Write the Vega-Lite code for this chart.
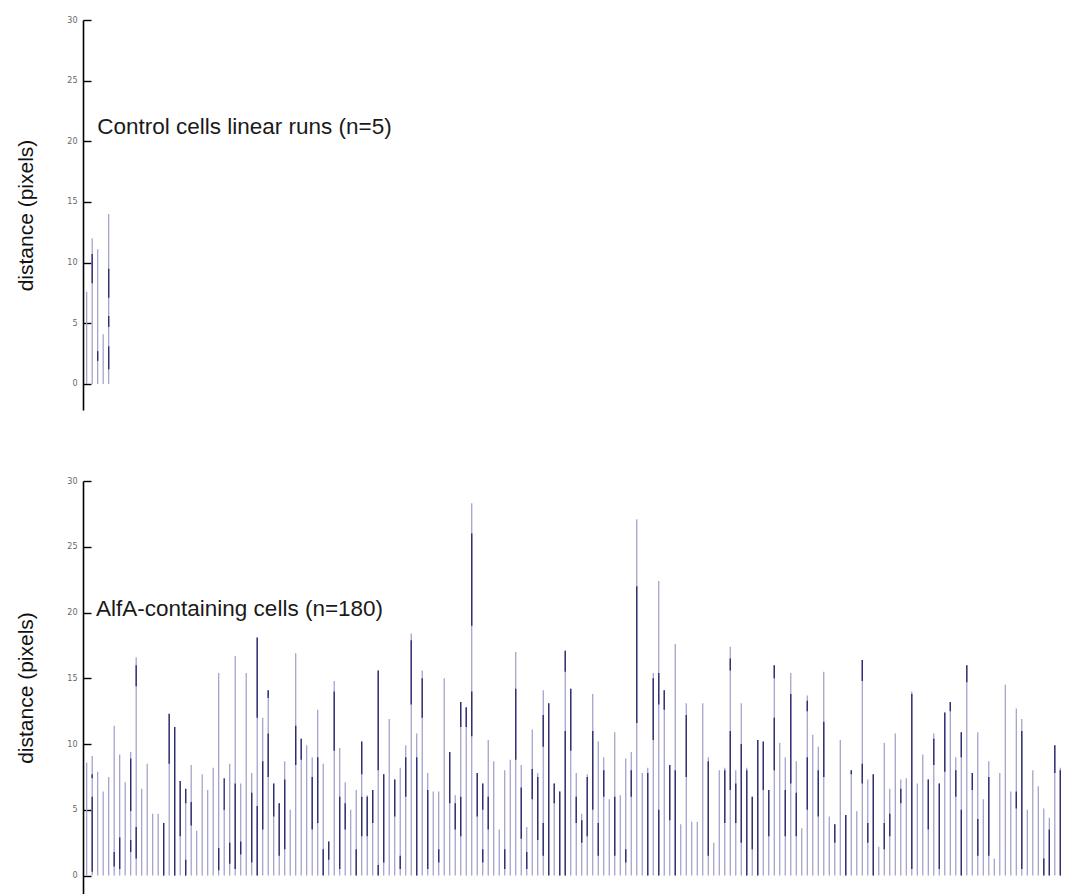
{
  "$schema": "https://vega.github.io/schema/vega-lite/v6.json",
  "background": "white",
  "padding": {"left": 15, "top": 16, "right": 0, "bottom": 0},
  "spacing": 67,
  "config": {
    "view": {"stroke": null},
    "axis": {"grid": false},
    "axisY": {
      "domainColor": "#000000", "domainWidth": 1.6,
      "tickColor": "#000000", "tickWidth": 1.4, "tickSize": -8,
      "labelPadding": 14, "labelFontSize": 8, "labelColor": "#666666", "labelFont": "DejaVu Sans",
      "titleFont": "Liberation Sans", "titleFontSize": 21,
      "titleFontWeight": "normal", "titleColor": "#111111", "titlePadding": 30
    }
  },
  "datasets": {
    "control": [
      {"cell": 1, "d": 7.6}, {"cell": 2, "d": 12.0}, {"cell": 3, "d": 11.1}, {"cell": 4, "d": 4.1}, {"cell": 5, "d": 14.0}
    ],
    "controlDark": [
      {"cell": 2, "lo": 8.3, "hi": 10.7}, {"cell": 3, "lo": 1.9, "hi": 2.7},
      {"cell": 5, "lo": 7.1, "hi": 9.5}, {"cell": 5, "lo": 4.7, "hi": 5.6}, {"cell": 5, "lo": 1.2, "hi": 3.1}
    ],
    "alfa": [
      {"cell": 1, "d": 8.6}, {"cell": 2, "d": 9.1}, {"cell": 3, "d": 7.9}, {"cell": 4, "d": 6.4}, {"cell": 5, "d": 7.5},
      {"cell": 6, "d": 11.4}, {"cell": 7, "d": 9.2}, {"cell": 8, "d": 7.1}, {"cell": 9, "d": 9.4}, {"cell": 10, "d": 16.6},
      {"cell": 11, "d": 6.6}, {"cell": 12, "d": 8.5}, {"cell": 13, "d": 4.7}, {"cell": 14, "d": 4.7}, {"cell": 15, "d": 4.0},
      {"cell": 16, "d": 12.3}, {"cell": 17, "d": 11.3}, {"cell": 18, "d": 7.2}, {"cell": 19, "d": 6.6}, {"cell": 20, "d": 8.4},
      {"cell": 21, "d": 3.4}, {"cell": 22, "d": 7.7}, {"cell": 23, "d": 6.5}, {"cell": 24, "d": 8.2}, {"cell": 25, "d": 15.4},
      {"cell": 26, "d": 5.1}, {"cell": 27, "d": 8.5}, {"cell": 28, "d": 16.7}, {"cell": 29, "d": 7.0}, {"cell": 30, "d": 15.4},
      {"cell": 31, "d": 7.8}, {"cell": 32, "d": 18.1}, {"cell": 33, "d": 12.0}, {"cell": 34, "d": 14.1}, {"cell": 35, "d": 7.0},
      {"cell": 36, "d": 5.5}, {"cell": 37, "d": 8.7}, {"cell": 38, "d": 5.0}, {"cell": 39, "d": 16.9}, {"cell": 40, "d": 10.4},
      {"cell": 41, "d": 9.9}, {"cell": 42, "d": 9.0}, {"cell": 43, "d": 12.6}, {"cell": 44, "d": 8.5}, {"cell": 45, "d": 2.6},
      {"cell": 46, "d": 14.8}, {"cell": 47, "d": 9.7}, {"cell": 48, "d": 7.1}, {"cell": 49, "d": 5.0}, {"cell": 50, "d": 6.5},
      {"cell": 51, "d": 10.2}, {"cell": 52, "d": 6.1}, {"cell": 53, "d": 6.5}, {"cell": 54, "d": 15.6}, {"cell": 55, "d": 7.7},
      {"cell": 56, "d": 11.9}, {"cell": 57, "d": 7.3}, {"cell": 58, "d": 8.2}, {"cell": 59, "d": 9.9}, {"cell": 60, "d": 18.4},
      {"cell": 61, "d": 10.8}, {"cell": 62, "d": 15.6}, {"cell": 63, "d": 7.8}, {"cell": 64, "d": 6.4}, {"cell": 65, "d": 6.4},
      {"cell": 66, "d": 15.0}, {"cell": 67, "d": 9.4}, {"cell": 68, "d": 6.1}, {"cell": 69, "d": 13.2}, {"cell": 70, "d": 12.8},
      {"cell": 71, "d": 28.3}, {"cell": 72, "d": 7.8}, {"cell": 73, "d": 7.0}, {"cell": 74, "d": 10.3}, {"cell": 75, "d": 8.7},
      {"cell": 76, "d": 3.5}, {"cell": 77, "d": 8.0}, {"cell": 78, "d": 8.8}, {"cell": 79, "d": 17.0}, {"cell": 80, "d": 8.4},
      {"cell": 81, "d": 3.7}, {"cell": 82, "d": 11.1}, {"cell": 83, "d": 7.8}, {"cell": 84, "d": 14.1}, {"cell": 85, "d": 13.1},
      {"cell": 86, "d": 7.0}, {"cell": 87, "d": 6.4}, {"cell": 88, "d": 17.1}, {"cell": 89, "d": 14.2}, {"cell": 90, "d": 7.8},
      {"cell": 91, "d": 4.7}, {"cell": 92, "d": 7.7}, {"cell": 93, "d": 13.8}, {"cell": 94, "d": 10.2}, {"cell": 95, "d": 9.0},
      {"cell": 96, "d": 5.8}, {"cell": 97, "d": 10.9}, {"cell": 98, "d": 6.1}, {"cell": 99, "d": 8.9}, {"cell": 100, "d": 9.4},
      {"cell": 101, "d": 27.1}, {"cell": 102, "d": 7.8}, {"cell": 103, "d": 8.2}, {"cell": 104, "d": 15.4}, {"cell": 105, "d": 22.4},
      {"cell": 106, "d": 14.1}, {"cell": 107, "d": 8.4}, {"cell": 108, "d": 17.6}, {"cell": 109, "d": 3.9}, {"cell": 110, "d": 13.1},
      {"cell": 111, "d": 4.1}, {"cell": 112, "d": 4.1}, {"cell": 113, "d": 13.1}, {"cell": 114, "d": 9.0}, {"cell": 115, "d": 2.5},
      {"cell": 116, "d": 8.0}, {"cell": 117, "d": 8.2}, {"cell": 118, "d": 17.4}, {"cell": 119, "d": 8.0}, {"cell": 120, "d": 13.1},
      {"cell": 121, "d": 8.2}, {"cell": 122, "d": 6.0}, {"cell": 123, "d": 10.3}, {"cell": 124, "d": 10.2}, {"cell": 125, "d": 6.5},
      {"cell": 126, "d": 16.0}, {"cell": 127, "d": 10.1}, {"cell": 128, "d": 9.0}, {"cell": 129, "d": 15.4}, {"cell": 130, "d": 8.7},
      {"cell": 131, "d": 3.6}, {"cell": 132, "d": 13.7}, {"cell": 133, "d": 10.7}, {"cell": 134, "d": 9.8}, {"cell": 135, "d": 15.5},
      {"cell": 136, "d": 4.5}, {"cell": 137, "d": 3.9}, {"cell": 138, "d": 10.3}, {"cell": 139, "d": 4.6}, {"cell": 140, "d": 8.0},
      {"cell": 141, "d": 4.9}, {"cell": 142, "d": 16.4}, {"cell": 143, "d": 7.3}, {"cell": 144, "d": 7.7}, {"cell": 145, "d": 2.2},
      {"cell": 146, "d": 10.1}, {"cell": 147, "d": 6.6}, {"cell": 148, "d": 10.8}, {"cell": 149, "d": 7.3}, {"cell": 150, "d": 7.4},
      {"cell": 151, "d": 14.0}, {"cell": 152, "d": 7.0}, {"cell": 153, "d": 9.2}, {"cell": 154, "d": 7.3}, {"cell": 155, "d": 10.8},
      {"cell": 156, "d": 7.0}, {"cell": 157, "d": 12.4}, {"cell": 158, "d": 13.2}, {"cell": 159, "d": 9.0}, {"cell": 160, "d": 10.9},
      {"cell": 161, "d": 16.0}, {"cell": 162, "d": 7.8}, {"cell": 163, "d": 10.9}, {"cell": 164, "d": 5.8}, {"cell": 165, "d": 8.7},
      {"cell": 166, "d": 1.3}, {"cell": 167, "d": 7.8}, {"cell": 168, "d": 14.5}, {"cell": 169, "d": 6.4}, {"cell": 170, "d": 12.7},
      {"cell": 171, "d": 11.9}, {"cell": 172, "d": 5.0}, {"cell": 173, "d": 8.0}, {"cell": 174, "d": 6.8}, {"cell": 175, "d": 5.1},
      {"cell": 176, "d": 4.4}, {"cell": 177, "d": 9.9}, {"cell": 178, "d": 8.2}
    ],
    "alfaDark": [
      {"cell": 2, "lo": 0.3, "hi": 6.0}, {"cell": 2, "lo": 7.4, "hi": 7.7}, {"cell": 6, "lo": 0.7, "hi": 1.8}, {"cell": 7, "lo": 0.5, "hi": 2.9},
      {"cell": 9, "lo": 4.9, "hi": 8.9}, {"cell": 9, "lo": 1.8, "hi": 2.7}, {"cell": 10, "lo": 14.4, "hi": 16.0}, {"cell": 10, "lo": 1.3, "hi": 3.7},
      {"cell": 15, "lo": 0, "hi": 4.0}, {"cell": 16, "lo": 8.5, "hi": 12.3}, {"cell": 17, "lo": 0, "hi": 11.3}, {"cell": 18, "lo": 3.0, "hi": 7.2},
      {"cell": 19, "lo": 5.5, "hi": 6.6}, {"cell": 19, "lo": 0, "hi": 1.2}, {"cell": 20, "lo": 3.8, "hi": 5.6}, {"cell": 25, "lo": 0.4, "hi": 2.1},
      {"cell": 26, "lo": 5.0, "hi": 7.4}, {"cell": 27, "lo": 0.9, "hi": 2.5}, {"cell": 28, "lo": 0.5, "hi": 7.0}, {"cell": 29, "lo": 1.6, "hi": 2.6},
      {"cell": 31, "lo": 1.0, "hi": 6.3}, {"cell": 32, "lo": 12.0, "hi": 18.1}, {"cell": 32, "lo": 0, "hi": 5.3}, {"cell": 33, "lo": 3.5, "hi": 8.7},
      {"cell": 34, "lo": 13.5, "hi": 14.1}, {"cell": 34, "lo": 7.5, "hi": 10.8}, {"cell": 35, "lo": 4.5, "hi": 7.0}, {"cell": 36, "lo": 1.5, "hi": 5.5},
      {"cell": 37, "lo": 2.0, "hi": 7.3}, {"cell": 39, "lo": 8.4, "hi": 11.4}, {"cell": 40, "lo": 8.8, "hi": 10.4}, {"cell": 42, "lo": 3.5, "hi": 7.5},
      {"cell": 43, "lo": 4.0, "hi": 9.0}, {"cell": 44, "lo": 0, "hi": 2.0}, {"cell": 45, "lo": 1.2, "hi": 2.6}, {"cell": 46, "lo": 9.5, "hi": 14.0},
      {"cell": 47, "lo": 0.5, "hi": 6.0}, {"cell": 48, "lo": 3.5, "hi": 5.5}, {"cell": 50, "lo": 0, "hi": 2.0}, {"cell": 51, "lo": 7.7, "hi": 10.2},
      {"cell": 51, "lo": 3.0, "hi": 6.0}, {"cell": 52, "lo": 3.0, "hi": 6.0}, {"cell": 53, "lo": 4.0, "hi": 6.5}, {"cell": 54, "lo": 8.0, "hi": 15.6},
      {"cell": 54, "lo": 0, "hi": 0.8}, {"cell": 55, "lo": 1.0, "hi": 7.7}, {"cell": 57, "lo": 4.5, "hi": 7.3}, {"cell": 58, "lo": 0.5, "hi": 1.5},
      {"cell": 59, "lo": 6.0, "hi": 9.0}, {"cell": 60, "lo": 13.0, "hi": 17.9}, {"cell": 61, "lo": 0, "hi": 9.0}, {"cell": 62, "lo": 12.0, "hi": 15.0},
      {"cell": 63, "lo": 0.5, "hi": 6.5}, {"cell": 65, "lo": 1.0, "hi": 2.0}, {"cell": 67, "lo": 5.5, "hi": 9.4}, {"cell": 68, "lo": 3.5, "hi": 5.5},
      {"cell": 69, "lo": 11.3, "hi": 13.2}, {"cell": 69, "lo": 3.0, "hi": 6.0}, {"cell": 70, "lo": 11.3, "hi": 12.8}, {"cell": 71, "lo": 19.0, "hi": 26.0},
      {"cell": 71, "lo": 10.6, "hi": 14.0}, {"cell": 72, "lo": 4.5, "hi": 7.8}, {"cell": 73, "lo": 1.0, "hi": 2.0}, {"cell": 73, "lo": 5.0, "hi": 7.0},
      {"cell": 74, "lo": 3.5, "hi": 6.0}, {"cell": 77, "lo": 0.5, "hi": 2.0}, {"cell": 79, "lo": 8.8, "hi": 14.2}, {"cell": 80, "lo": 2.8, "hi": 6.7},
      {"cell": 81, "lo": 0.5, "hi": 1.8}, {"cell": 82, "lo": 5.8, "hi": 8.1}, {"cell": 83, "lo": 2.7, "hi": 7.5}, {"cell": 84, "lo": 9.8, "hi": 12.2},
      {"cell": 84, "lo": 1.5, "hi": 4.0}, {"cell": 85, "lo": 0, "hi": 13.1}, {"cell": 86, "lo": 5.5, "hi": 7.0}, {"cell": 87, "lo": 0, "hi": 6.4},
      {"cell": 88, "lo": 15.5, "hi": 17.1}, {"cell": 88, "lo": 0, "hi": 11.0}, {"cell": 89, "lo": 9.5, "hi": 14.2}, {"cell": 90, "lo": 4.0, "hi": 6.0},
      {"cell": 91, "lo": 2.5, "hi": 4.2}, {"cell": 92, "lo": 3.0, "hi": 7.5}, {"cell": 93, "lo": 5.0, "hi": 11.0}, {"cell": 94, "lo": 1.5, "hi": 4.0},
      {"cell": 95, "lo": 6.0, "hi": 8.0}, {"cell": 97, "lo": 1.5, "hi": 6.0}, {"cell": 99, "lo": 1.0, "hi": 2.0}, {"cell": 100, "lo": 6.0, "hi": 8.0},
      {"cell": 101, "lo": 11.6, "hi": 22.0}, {"cell": 103, "lo": 0, "hi": 7.8}, {"cell": 104, "lo": 10.3, "hi": 15.0}, {"cell": 105, "lo": 13.0, "hi": 15.4},
      {"cell": 105, "lo": 0, "hi": 5.0}, {"cell": 106, "lo": 12.6, "hi": 14.1}, {"cell": 107, "lo": 4.2, "hi": 8.4}, {"cell": 108, "lo": 0, "hi": 8.0},
      {"cell": 110, "lo": 7.5, "hi": 12.2}, {"cell": 114, "lo": 1.5, "hi": 8.7}, {"cell": 117, "lo": 4.0, "hi": 8.0}, {"cell": 118, "lo": 6.5, "hi": 11.0},
      {"cell": 118, "lo": 15.6, "hi": 16.5}, {"cell": 119, "lo": 4.0, "hi": 7.0}, {"cell": 120, "lo": 2.5, "hi": 10.0}, {"cell": 121, "lo": 0, "hi": 8.0},
      {"cell": 122, "lo": 2.0, "hi": 6.0}, {"cell": 123, "lo": 0, "hi": 10.3}, {"cell": 124, "lo": 6.5, "hi": 10.2}, {"cell": 125, "lo": 3.0, "hi": 6.5},
      {"cell": 126, "lo": 15.0, "hi": 16.0}, {"cell": 126, "lo": 8.0, "hi": 12.0}, {"cell": 128, "lo": 3.0, "hi": 6.5}, {"cell": 129, "lo": 7.0, "hi": 13.8},
      {"cell": 130, "lo": 3.0, "hi": 6.3}, {"cell": 132, "lo": 12.5, "hi": 13.3}, {"cell": 132, "lo": 5.0, "hi": 9.0}, {"cell": 134, "lo": 4.5, "hi": 8.0},
      {"cell": 135, "lo": 7.5, "hi": 11.7}, {"cell": 137, "lo": 2.5, "hi": 3.9}, {"cell": 139, "lo": 0, "hi": 4.6}, {"cell": 140, "lo": 7.7, "hi": 8.0},
      {"cell": 142, "lo": 14.8, "hi": 16.4}, {"cell": 142, "lo": 7.0, "hi": 8.5}, {"cell": 143, "lo": 2.5, "hi": 4.0}, {"cell": 144, "lo": 0, "hi": 7.7},
      {"cell": 146, "lo": 2.0, "hi": 4.0}, {"cell": 147, "lo": 3.0, "hi": 4.7}, {"cell": 149, "lo": 5.5, "hi": 6.6}, {"cell": 151, "lo": 0.5, "hi": 13.8},
      {"cell": 154, "lo": 3.5, "hi": 7.3}, {"cell": 155, "lo": 8.4, "hi": 10.4}, {"cell": 156, "lo": 0.5, "hi": 7.0}, {"cell": 157, "lo": 7.9, "hi": 12.4},
      {"cell": 158, "lo": 12.5, "hi": 13.2}, {"cell": 159, "lo": 6.0, "hi": 8.0}, {"cell": 160, "lo": 9.0, "hi": 10.9}, {"cell": 160, "lo": 0, "hi": 5.0},
      {"cell": 161, "lo": 14.7, "hi": 16.0}, {"cell": 162, "lo": 6.5, "hi": 7.8}, {"cell": 163, "lo": 1.5, "hi": 4.3}, {"cell": 165, "lo": 1.5, "hi": 7.5},
      {"cell": 170, "lo": 5.1, "hi": 6.4}, {"cell": 171, "lo": 0.5, "hi": 11.0}, {"cell": 175, "lo": 0, "hi": 1.3}, {"cell": 176, "lo": 0, "hi": 3.5},
      {"cell": 177, "lo": 7.8, "hi": 9.9}, {"cell": 178, "lo": 0, "hi": 8.0}
    ]
  },
  "vconcat": [
    {
      "width": 985,
      "height": 390,
      "layer": [
        {
          "data": {"name": "control"},
          "mark": {"type": "rule", "color": "#9c9cc8", "strokeWidth": 1.2},
          "encoding": {
            "x": {"field": "cell", "type": "quantitative", "scale": {"domain": [0.33, 179.4], "nice": false, "zero": false}, "axis": null},
            "y": {"field": "d", "type": "quantitative", "scale": {"domain": [-2.15, 30], "nice": false, "zero": false}, "axis": {"title": "distance (pixels)", "values": [0, 5, 10, 15, 20, 25, 30]}},
            "y2": {"datum": 0}
          }
        },
        {
          "data": {"name": "controlDark"},
          "mark": {"type": "rule", "color": "#2e2e70", "strokeWidth": 1.4},
          "encoding": {
            "x": {"field": "cell", "type": "quantitative", "axis": null},
            "y": {"field": "lo", "type": "quantitative", "axis": {"title": "distance (pixels)", "values": [0, 5, 10, 15, 20, 25, 30]}},
            "y2": {"field": "hi"}
          }
        },
        {
          "data": {"values": [{}]},
          "mark": {"type": "text", "align": "left", "baseline": "alphabetic", "font": "Liberation Sans", "fontSize": 22.5, "color": "#1a1a1a"},
          "encoding": {
            "x": {"datum": 2.9, "type": "quantitative", "axis": null},
            "y": {"datum": 20.6, "type": "quantitative", "axis": {"title": "distance (pixels)", "values": [0, 5, 10, 15, 20, 25, 30]}},
            "text": {"value": "Control cells linear runs (n=5)"}
          }
        }
      ]
    },
    {
      "width": 985,
      "height": 413,
      "layer": [
        {
          "data": {"name": "alfa"},
          "mark": {"type": "rule", "color": "#9c9cc8", "strokeWidth": 1.2},
          "encoding": {
            "x": {"field": "cell", "type": "quantitative", "scale": {"domain": [0.33, 179.4], "nice": false, "zero": false}, "axis": null},
            "y": {"field": "d", "type": "quantitative", "scale": {"domain": [-1.4, 30], "nice": false, "zero": false}, "axis": {"title": "distance (pixels)", "values": [0, 5, 10, 15, 20, 25, 30]}},
            "y2": {"datum": 0}
          }
        },
        {
          "data": {"name": "alfaDark"},
          "mark": {"type": "rule", "color": "#2e2e70", "strokeWidth": 1.4},
          "encoding": {
            "x": {"field": "cell", "type": "quantitative", "axis": null},
            "y": {"field": "lo", "type": "quantitative", "axis": {"title": "distance (pixels)", "values": [0, 5, 10, 15, 20, 25, 30]}},
            "y2": {"field": "hi"}
          }
        },
        {
          "data": {"values": [{}]},
          "mark": {"type": "text", "align": "left", "baseline": "alphabetic", "font": "Liberation Sans", "fontSize": 22.5, "color": "#1a1a1a"},
          "encoding": {
            "x": {"datum": 2.7, "type": "quantitative", "axis": null},
            "y": {"datum": 19.7, "type": "quantitative", "axis": {"title": "distance (pixels)", "values": [0, 5, 10, 15, 20, 25, 30]}},
            "text": {"value": "AlfA-containing cells (n=180)"}
          }
        }
      ]
    }
  ]
}
